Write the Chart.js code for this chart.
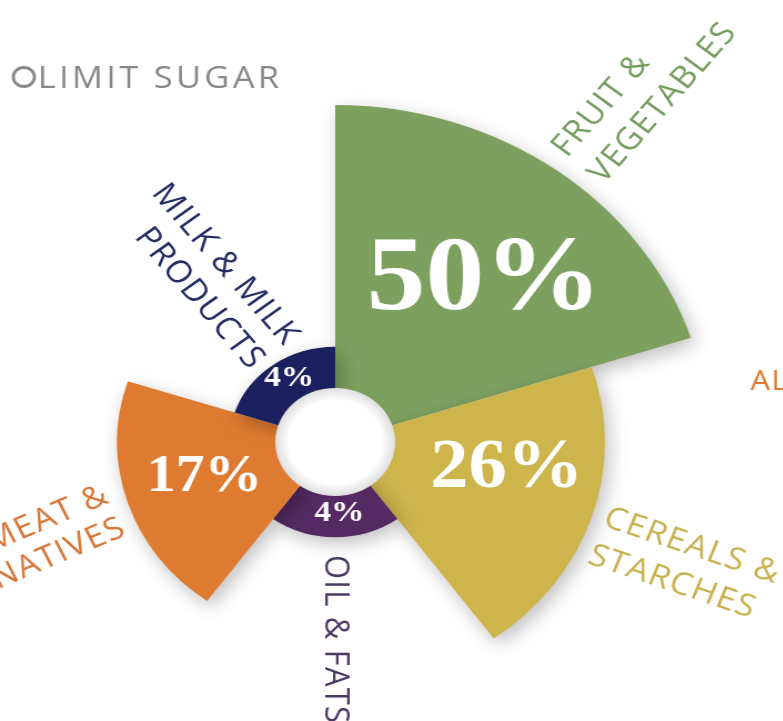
<!DOCTYPE html>
<html><head><meta charset="utf-8">
<script src="https://cdn.jsdelivr.net/npm/chart.js@4/dist/chart.umd.min.js"></script>
<style>
html,body{margin:0;padding:0;background:#fff;width:783px;height:721px;overflow:hidden}
#wrap{position:absolute;left:0;top:0;width:706px;height:721px;overflow:hidden;transform:scaleX(1.11);transform-origin:0 0}
#c{position:absolute;left:-148px;top:-8px}
</style></head><body>
<div id="wrap"><canvas id="c" width="900" height="900"></canvas></div>
<script>
// ---- data ----
const categories = ['Fruit & Vegetables', 'Cereals & Starches', 'Oil & Fats', 'Meat & Alternatives', 'Milk & Milk Products'];
const categoryLabelLines = [['FRUIT &', 'VEGETABLES'], ['CEREALS &', 'STARCHES'], ['OIL & FATS'], ['MEAT &', 'ALTERNATIVES'], ['MILK & MILK', 'PRODUCTS']];
const shares = [50, 26, 4, 17, 4];
const valueLabels = ['50%', '26%', '4%', '17%', '4%'];
const segmentColors = ['#7DA05F', '#CDB44B', '#552A62', '#DE7B30', '#1B215E'];
const labelColors = ['#769E62', '#C8B250', '#4A3A64', '#D7783A', '#232D64'];
const sideNotes = ['LIMIT SUGAR', 'AL'];

// ---- area-proportional (square-root) radial scale ----
class SqrtRadialScale extends Chart.RadialLinearScale {
  getDistanceFromCenterForValue(value) {
    if (value === null || value === undefined || isNaN(value)) return NaN;
    const t = Math.max(0, (value - this.min) / (this.max - this.min));
    return this.drawingArea * Math.sqrt(t);
  }
}
SqrtRadialScale.id = 'radialSqrt';
Chart.register(SqrtRadialScale);

const CANVAS_LEFT = -148, CANVAS_TOP = -8;
const LABEL_FONT = '"Open Sans", "DejaVu Sans", sans-serif';
const VALUE_FONT = '"Liberation Serif", "DejaVu Serif", serif';

const labelPlacement = [
  {a: 38.5, r: 352, dir: 'out', dy: [-22, 20]},
  {a: 110.5, r: 254, dir: 'out', dy: [-15, 25]},
  {a: 180, r: 113, dir: 'out', dy: [0]},
  {a: 245, r: 208, dir: 'in', dy: [-40, -4]},
  {a: 322, r: 103, dir: 'in', dy: [-31, 8]}
];
const valuePlacement = [
  {a: 40, r: 209, size: 106},
  {a: 100, r: 157, size: 69},
  {a: 177, r: 71, size: 30},
  {a: 253, r: 123, size: 52},
  {a: 327, r: 76, size: 30}
];

const decor = {
  id: 'decor',
  beforeDatasetsDraw(chart) {
    const ctx = chart.ctx;
    ctx.save();
    ctx.shadowColor = 'rgba(0,0,0,0.26)';
    ctx.shadowBlur = 18;
    ctx.shadowOffsetX = 4;
    ctx.shadowOffsetY = 6;
  },
  afterDatasetsDraw(chart) {
    const ctx = chart.ctx;
    ctx.restore();
    const sc = chart.scales.r;
    const cx = sc.xCenter, cy = sc.yCenter;
    // hole
    const hr = 54;
    const g = ctx.createRadialGradient(cx, cy, 0, cx, cy, hr);
    g.addColorStop(0, '#ffffff');
    g.addColorStop(0.78, '#ffffff');
    g.addColorStop(1, '#dedede');
    ctx.save();
    ctx.beginPath();
    ctx.arc(cx, cy, hr, 0, Math.PI * 2);
    ctx.fillStyle = g;
    ctx.fill();
    ctx.restore();
  },
  afterDraw(chart) {
    const ctx = chart.ctx;
    const sc = chart.scales.r;
    const cx = sc.xCenter, cy = sc.yCenter;
    // value labels
    valueLabels.forEach((t, i) => {
      const p = valuePlacement[i];
      const a = p.a * Math.PI / 180;
      ctx.save();
      ctx.font = 'bold ' + p.size + 'px ' + VALUE_FONT;
      ctx.fillStyle = '#ffffff';
      ctx.textAlign = 'center';
      ctx.textBaseline = 'middle';
      ctx.fillText(t, cx + p.r * Math.sin(a), cy - p.r * Math.cos(a));
      ctx.restore();
    });
    // category labels
    categoryLabelLines.forEach((lines, i) => {
      const p = labelPlacement[i];
      const a = p.a * Math.PI / 180;
      ctx.save();
      ctx.translate(cx, cy);
      let x;
      if (p.dir === 'out') { ctx.rotate(a - Math.PI / 2); ctx.textAlign = 'left'; x = p.r; }
      else { ctx.rotate(a + Math.PI / 2); ctx.textAlign = 'right'; x = -p.r; }
      ctx.font = '31px ' + LABEL_FONT;
      ctx.letterSpacing = '1.2px';
      ctx.fillStyle = labelColors[i];
      ctx.textBaseline = 'middle';
      lines.forEach((t, j) => ctx.fillText(t, x, p.dy[j]));
      ctx.restore();
    });
    // side notes (page coordinates)
    ctx.save();
    ctx.translate(-CANVAS_LEFT, -CANVAS_TOP);
    ctx.strokeStyle = '#8C8787';
    ctx.lineWidth = 2.8;
    ctx.beginPath();
    ctx.arc(21.5, 77, 9.5, 0, Math.PI * 2);
    ctx.stroke();
    ctx.font = '31px ' + LABEL_FONT;
    ctx.letterSpacing = '3px';
    ctx.fillStyle = '#8C8787';
    ctx.textAlign = 'left';
    ctx.textBaseline = 'alphabetic';
    ctx.fillText(sideNotes[0], 34, 88);
    ctx.fillStyle = '#E07A30';
    ctx.font = '28px ' + LABEL_FONT;
    ctx.letterSpacing = '1px';
    ctx.fillText(sideNotes[1], 676, 390);
    ctx.restore();
  }
};

new Chart(document.getElementById('c'), {
  type: 'polarArea',
  data: {
    labels: categories,
    datasets: [{
      data: shares,
      backgroundColor: segmentColors,
      borderWidth: 0
    }]
  },
  options: {
    responsive: false,
    animation: false,
    layout: {padding: 113},
    plugins: {legend: {display: false}, tooltip: {enabled: false}},
    scales: {
      r: {
        type: 'radialSqrt',
        min: 0,
        max: 50,
        startAngle: 0,
        ticks: {display: false},
        grid: {display: false},
        angleLines: {display: false},
        pointLabels: {display: false}
      }
    }
  },
  plugins: [decor]
});
</script>
</body></html>
